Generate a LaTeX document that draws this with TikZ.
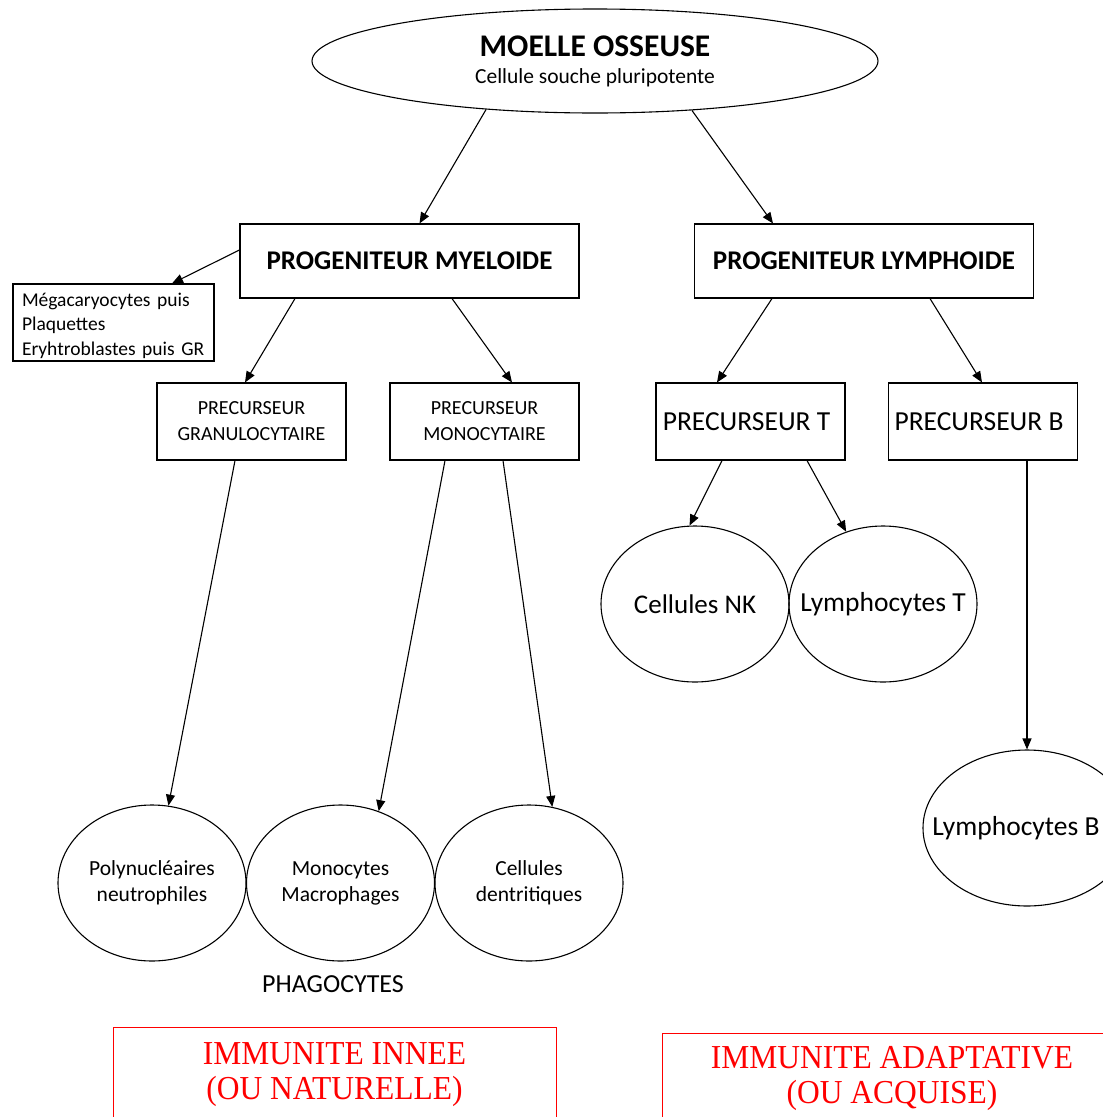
\documentclass[tikz,border=0pt]{standalone}
\usepackage{fontspec}
\setmainfont{Carlito}
\newfontfamily\redfont[FakeStretch=0.94]{Liberation Serif}
\usetikzlibrary{shapes.geometric,arrows.meta}
\begin{document}
\begin{tikzpicture}[x=1pt,y=-1pt,
  line width=1.1pt,
  arr/.style={-{Triangle[length=11pt,width=9pt]}},
  bigbox/.style={draw,rectangle,minimum width=339pt,minimum height=74pt,inner sep=0pt,font=\fontsize{27}{30}\selectfont\bfseries},
  precbox/.style={draw,rectangle,minimum width=189pt,minimum height=77pt,inner sep=0pt,align=center},
  cell/.style={draw,ellipse,minimum width=188pt,minimum height=156pt,inner sep=0pt,align=center},
  redbox/.style={draw=red,rectangle,line width=1pt,text=red,align=center,inner sep=0pt,font=\redfont\fontsize{33.5}{35}\selectfont}
]
\useasboundingbox (0,0) rectangle (1103,1117);
\fill[white] (0,0) rectangle (1103,1117);

\node[draw,ellipse,minimum width=566pt,minimum height=104pt,inner sep=0pt,align=center] (top) at (595,61)
  {{\fontsize{31.5}{34}\selectfont\bfseries MOELLE OSSEUSE}\\[11pt]{\fontsize{21.5}{24}\selectfont Cellule souche pluripotente}};

\node[bigbox] (pm) at (409.5,261) {PROGENITEUR MYELOIDE};
\node[bigbox] (pl) at (864,261) {PROGENITEUR LYMPHOIDE};

\node[draw,rectangle,minimum width=201pt,minimum height=77pt,inner xsep=9pt,inner ysep=0pt,text width=183pt,align=left,font=\fontsize{19.5}{24.5}\selectfont] (sb) at (113.5,322.5)
  {\rule{0pt}{5pt}\\[-10pt]Mégacaryocytes puis\\Plaquettes\\Eryhtroblastes puis GR};

\node[precbox,font=\fontsize{20}{26}\selectfont] (pg) at (251.5,421.5) {PRECURSEUR\\GRANULOCYTAIRE};
\node[precbox,font=\fontsize{20}{26}\selectfont] (pmo) at (484.5,421.5) {PRECURSEUR\\MONOCYTAIRE};
\node[precbox,font=\fontsize{27.5}{30}\selectfont] (pt) at (750.5,421.5) {\hspace*{-8pt}PRECURSEUR T};
\node[precbox,font=\fontsize{27.5}{30}\selectfont] (pb) at (983,421.5) {\hspace*{-8pt}PRECURSEUR B};

\node[cell,font=\fontsize{27}{30}\selectfont] (nk) at (695,604) {\makebox[0pt]{Cellules NK}};
\node[cell,font=\fontsize{27.5}{30}\selectfont] (lt) at (883,604) {\makebox[0pt]{Lymphocytes T}};
\node[cell,minimum width=208pt] (lb) at (1027,828) {};
\node[font=\fontsize{27.5}{30}\selectfont] (lbt) at (1016,828) {Lymphocytes B};

\node[cell,font=\fontsize{21.5}{26}\selectfont] (poly) at (152,883) {Polynucléaires\\neutrophiles};
\node[cell,font=\fontsize{21.5}{26}\selectfont] (mono) at (340.5,883) {Monocytes\\Macrophages};
\node[cell,font=\fontsize{21.5}{26}\selectfont] (dent) at (529,883) {Cellules\\dentritiques};

\node[font=\fontsize{26}{30}\selectfont] (phago) at (333,984) {PHAGOCYTES};

\node[redbox,minimum width=443pt,minimum height=96pt] (inn) at (334.5,1075) {IMMUNITE INNEE\\[0pt](OU NATURELLE)};
\node[redbox,minimum width=460pt,minimum height=90pt] (ada) at (892,1078) {IMMUNITE ADAPTATIVE\\[0pt](OU ACQUISE)};

\draw[arr] (top.204) -- ([xshift=10pt]pm.north);
\draw[arr] (top.-27) -- ([xshift=-91pt]pl.north);
\draw[arr] ([yshift=11pt]pm.west) -- ([xshift=58.5pt]sb.north);
\draw[arr] ([xshift=-114.5pt]pm.south) -- ([xshift=-6.5pt]pg.north);
\draw[arr] ([xshift=42.5pt]pm.south) -- ([xshift=27.5pt]pmo.north);
\draw[arr] ([xshift=-92pt]pl.south) -- ([xshift=-33.5pt]pt.north);
\draw[arr] ([xshift=66pt]pl.south) -- ([xshift=-1pt]pb.north);
\draw[arr] ([xshift=-28.5pt]pt.south) -- (nk.94);
\draw[arr] ([xshift=56.5pt]pt.south) -- (lt.117);
\draw[arr] ([xshift=44pt]pb.south) -- (lb.north);
\draw[arr] ([xshift=-16.5pt]pg.south) -- (poly.78);
\draw[arr] ([xshift=-39.5pt]pmo.south) -- (mono.62);
\draw[arr] ([xshift=18.5pt]pmo.south) -- (dent.73);
\end{tikzpicture}
\end{document}
